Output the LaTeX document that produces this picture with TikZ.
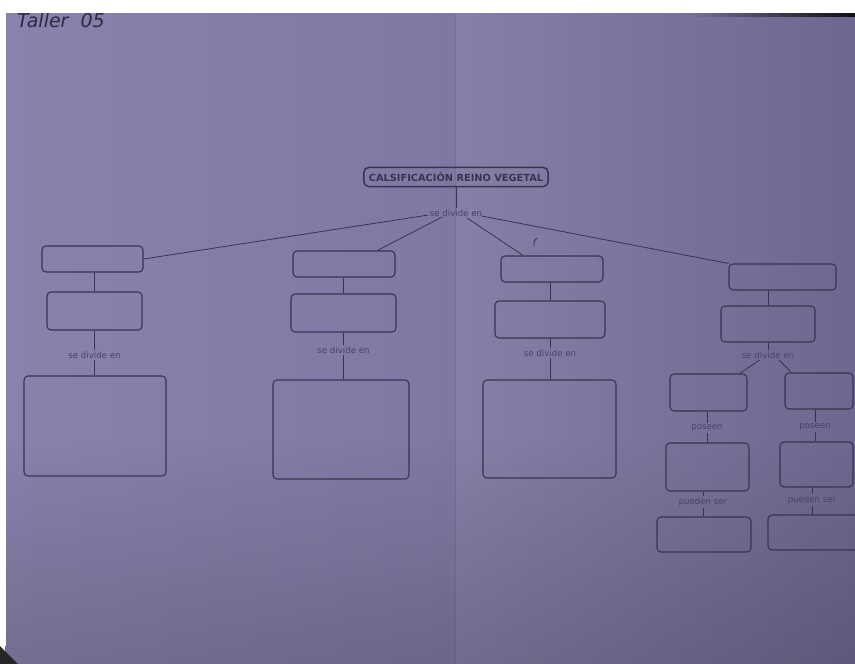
\documentclass[tikz,border=0pt]{standalone}
\usepackage{fontspec}
\setmainfont{DejaVu Sans}
\usetikzlibrary{calc,fadings}
\definecolor{ink}{HTML}{3A3350}
\definecolor{softink}{HTML}{4A4264}
\definecolor{pageL}{HTML}{8A81AC}
\definecolor{pageM}{HTML}{8078A2}
\definecolor{pageR}{HTML}{6F678F}
\tikzset{
  x=1pt, y=-1pt,
  blank/.style={draw=ink, line width=1.1pt, rounded corners=4pt, inner sep=0pt},
  titlebox/.style={draw=ink, line width=1.5pt, rounded corners=5pt, inner xsep=5pt, inner ysep=5pt,
    font=\fontsize{9.8}{11}\selectfont\bfseries, text=ink},
  lbl/.style={font=\fontsize{8.6}{9}\selectfont, text=softink, inner sep=1.5pt},
  link/.style={draw=ink, line width=0.8pt},
}
\newcommand{\blankbox}[5]{% name, x1, y1, x2, y2
  \node[blank, minimum width={#4-#2}, minimum height={#5-#3}] (#1) at ({(#2+#4)/2},{(#3+#5)/2}) {};}
\begin{document}
\begin{tikzpicture}
\useasboundingbox (0,0) rectangle (855,664);
\begin{scope}
\clip (0,0) rectangle (855,664);
% paper under the photo
\fill[white] (0,0) rectangle (855,664);
\shade[left color=pageL, right color=pageM] (5,12) rectangle (455,664);
\shade[left color=pageM!95!white, right color=pageR] (455,12) rectangle (855,664);
\fill[black!70!pageR, opacity=0.2, path fading=north] (5,440) rectangle (855,664);
\draw[pageR!80!black, opacity=0.35, line width=1pt] (455,12) -- (455,664);
% dark edges of the photo
\fill[black!85!pageR, path fading=west] (690,9) rectangle (855,17);
\fill[black!85] (0,646) -- (18,664) -- (0,664) -- cycle;
% handwritten note, its top cut by the page edge
\node[anchor=base west, font=\fontsize{19}{19}\selectfont\itshape, text=ink!80!black, inner sep=0pt]
  (note) at (17,27) {Taller\ \ 05};
\fill[white] (0,0) rectangle (855,13);
\fill[white] (0,0) rectangle (6,646);

% title
\node[titlebox] (title) at (456,177) {CALSIFICACIÓN REINO VEGETAL};
\node[lbl] (sd) at (456,213) {se divide en};
\draw[link] (title.south) -- (sd.north);

% first level
\blankbox{c1a}{42}{246}{143}{272}
\blankbox{c2a}{293}{251}{395}{277}
\blankbox{c3a}{501}{256}{603}{282}
\blankbox{c4a}{729}{264}{836}{290}
\draw[link] ($(sd.south west)+(0,-3)$) -- (c1a.east);
\draw[link] ($(sd.south west)!0.25!(sd.south east)+(0,-1)$) -- ($(c2a.north)!0.65!(c2a.north east)$);
\draw[link] ($(sd.south west)!0.7!(sd.south east)$) -- ($(c3a.north west)!0.22!(c3a.north east)$);
\draw[link] ($(sd.south east)+(-2,-2)$) -- (c4a.north west);
% pen mark
\draw[ink, line width=0.9pt, line cap=round] (537,238) .. controls (534,241) .. (534,246);

% second level
\blankbox{c1b}{47}{292}{142}{330}
\blankbox{c2b}{291}{294}{396}{332}
\blankbox{c3b}{495}{301}{605}{338}
\blankbox{c4b}{721}{306}{815}{342}
\foreach \n in {1,2,3,4} \draw[link] (c\n b.north |- c\n a.south) -- (c\n b.north);

% "se divide en" under the first three columns
\node[lbl] (sd1) at (94.5,355) {se divide en};
\node[lbl] (sd2) at (343.5,350) {se divide en};
\node[lbl] (sd3) at (550,353) {se divide en};
\blankbox{c1c}{24}{376}{166}{476}
\blankbox{c2c}{273}{380}{409}{479}
\blankbox{c3c}{483}{380}{616}{478}
\foreach \n in {1,2,3} {
  \draw[link] (sd\n.north |- c\n b.south) -- (sd\n.north);
  \draw[link] (sd\n.south) -- (sd\n.south |- c\n c.north);
}

% fourth column splits in two
\node[lbl] (sd4) at (768,355) {se divide en};
\draw[link] (sd4.north |- c4b.south) -- (sd4.north);
\blankbox{dL}{670}{374}{747}{411}
\blankbox{dR}{785}{373}{853}{409}
\draw[link] ($(sd4.south west)!0.35!(sd4.south east)$) -- ($(dL.north west)!0.9!(dL.north east)$);
\draw[link] ($(sd4.south west)!0.7!(sd4.south east)$) -- ($(dR.north west)!0.1!(dR.north east)$);

\node[lbl] (pL) at (707,428) {poseen};
\node[lbl] (pR) at (815,427) {poseen};
\blankbox{eL}{666}{443}{749}{491}
\blankbox{eR}{780}{442}{853}{487}
\draw[link] (pL.north |- dL.south) -- (pL.north);
\draw[link] (pL.south) -- (pL.south |- eL.north);
\draw[link] (pR.north |- dR.south) -- (pR.north);
\draw[link] (pR.south) -- (pR.south |- eR.north);

\node[lbl] (sL) at (703,502) {pueden ser};
\node[lbl] (sR) at (812,500) {pueden ser};
\blankbox{fL}{657}{517}{751}{552}
\blankbox{fR}{768}{515}{880}{550}
\draw[link] (sL.north |- eL.south) -- (sL.north);
\draw[link] (sL.south) -- (sL.south |- fL.north);
\draw[link] (sR.north |- eR.south) -- (sR.north);
\draw[link] (sR.south) -- (sR.south |- fR.north);
\end{scope}
\end{tikzpicture}
\end{document}
